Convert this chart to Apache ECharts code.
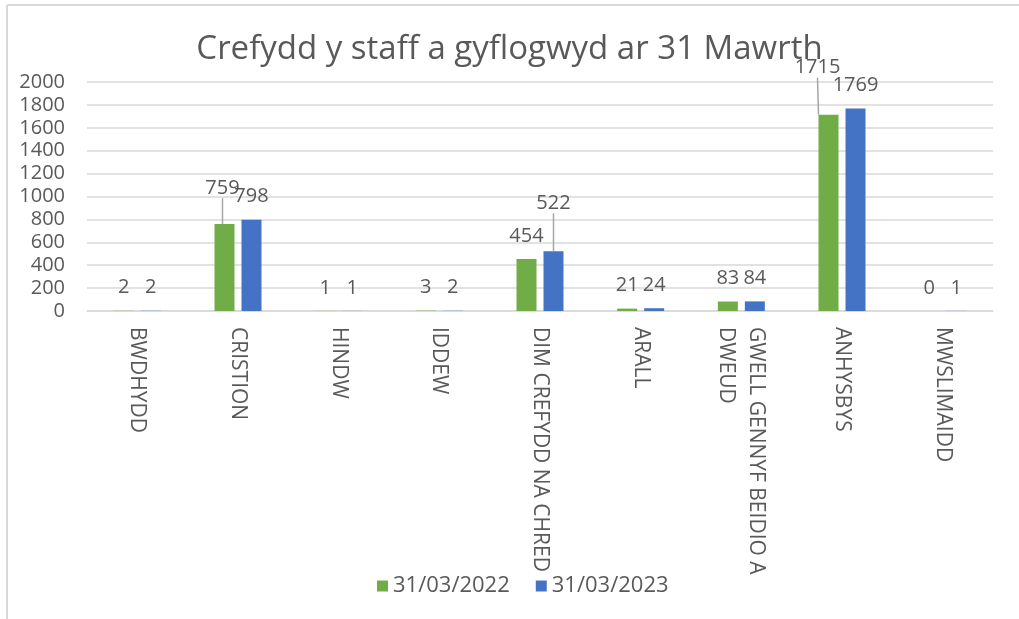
<!DOCTYPE html>
<html>
<head>
<meta charset="utf-8">
<script src="https://cdn.jsdelivr.net/npm/echarts@6/dist/echarts.min.js"></script>
<style>
  html, body { margin: 0; padding: 0; background: #fff; }
  #chart { width: 1019px; height: 619px; }
</style>
</head>
<body>
<div id="chart"></div>
<script>
const categories = ['BWDHYDD', 'CRISTION', 'HINDW', 'IDDEW', 'DIM CREFYDD NA CHRED', 'ARALL', 'GWELL GENNYF BEIDIO A\nDWEUD', 'ANHYSBYS', 'MWSLIMAIDD']
const values2022 = [2, 759, 1, 3, 454, 21, 83, 1715, 0]
const values2023 = [2, 798, 1, 2, 522, 24, 84, 1769, 1]
const seriesNames = ['31/03/2022', '31/03/2023']
const yTicks = { min: 0, max: 2000, interval: 200 }

// labels that Excel nudged off their bars (series, index) -> shift
const labelShift = {
  '0-1': { dx: -2, dy: -13 },
  '1-4': { dx: 0, dy: -25 },
  '0-7': { dx: -11, dy: -24 }
}

const font = 'Open Sans'
const grey = '#595959'

function toItems(values, s) {
  return values.map((v, i) => labelShift[s + '-' + i]
    ? { value: v, labelLine: { show: true, lineStyle: { color: '#a6a6a6', width: 1.5 } } }
    : v)
}

const chart = echarts.init(document.getElementById('chart'))

const barLabel = {
  show: true,
  position: 'top',
  distance: 13,
  color: grey,
  fontSize: 20,
  fontFamily: font
}

chart.setOption({
  animation: false,
  title: {
    text: 'Crefydd y staff a gyflogwyd ar 31 Mawrth',
    left: 'center',
    top: 28,
    textStyle: { color: grey, fontSize: 33, fontWeight: 'normal', fontFamily: font }
  },
  graphic: [
    { type: 'line', shape: { x1: 7, y1: 5, x2: 1019, y2: 5 }, style: { stroke: '#d9d9d9', lineWidth: 2 } },
    { type: 'line', shape: { x1: 7, y1: 5, x2: 7, y2: 619 }, style: { stroke: '#d9d9d9', lineWidth: 2 } }
  ],
  legend: {
    bottom: 17,
    left: 372,
    itemWidth: 11,
    itemHeight: 11,
    itemGap: 26,
    icon: 'rect',
    textStyle: { color: grey, fontSize: 22, fontFamily: font },
    data: seriesNames
  },
  grid: { left: 87, right: 26, top: 82, bottom: 308 },
  xAxis: {
    type: 'category',
    data: categories,
    axisLine: { lineStyle: { color: '#d9d9d9', width: 1.5 } },
    axisTick: { show: false },
    axisLabel: {
      interval: 0,
      rotate: -90,
      margin: 16,
      color: grey,
      fontSize: 21,
      fontFamily: font,
      lineHeight: 30
    }
  },
  yAxis: {
    type: 'value',
    min: yTicks.min,
    max: yTicks.max,
    interval: yTicks.interval,
    axisLine: { show: false },
    axisTick: { show: false },
    axisLabel: { color: grey, fontSize: 20, fontFamily: font, margin: 22, formatter: v => String(v) },
    splitLine: { lineStyle: { color: '#d9d9d9', width: 1.5 } }
  },
  series: [
    {
      name: seriesNames[0],
      type: 'bar',
      data: toItems(values2022, 0),
      barWidth: 20,
      barGap: '35%',
      itemStyle: { color: '#70ad47' },
      label: barLabel,
      labelLayout: p => labelShift['0-' + p.dataIndex] || {}
    },
    {
      name: seriesNames[1],
      type: 'bar',
      data: toItems(values2023, 1),
      barWidth: 20,
      barGap: '35%',
      itemStyle: { color: '#4472c4' },
      label: barLabel,
      labelLayout: p => labelShift['1-' + p.dataIndex] || {}
    }
  ]
})
</script>
</body>
</html>
